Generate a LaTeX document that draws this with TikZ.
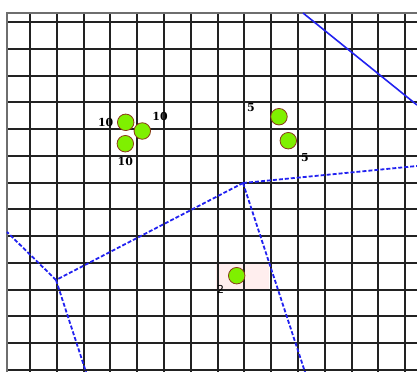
\documentclass[tikz,border=0pt]{standalone}
\usepackage{fontspec}
\setsansfont{DejaVu Sans}
\newfontfamily\labelfont{DejaVu Serif}
\usetikzlibrary{positioning}
\definecolor{ink}{HTML}{000000}
\definecolor{gridink}{HTML}{222222}
\definecolor{frameink}{HTML}{6E6E6E}
\definecolor{edgeblue}{HTML}{2222F0}
\definecolor{sitefill}{HTML}{7FF000}
\definecolor{siterim}{HTML}{8A3A1A}
\definecolor{cellpink}{HTML}{FFEEEE}
\tikzset{
  site/.style={circle, draw=siterim, fill=sitefill, line width=0.8bp, minimum size=16.5bp, inner sep=0pt},
  weight/.style={font=\labelfont\bfseries\fontsize{11}{13}\selectfont, text=ink, inner sep=0pt},
  lightweight/.style={weight, font=\sffamily\fontsize{11}{13}\selectfont},
  gridline/.style={draw=gridink, line width=1.6bp},
  frameline/.style={draw=frameink, line width=2bp},
  cellmark/.style={fill=cellpink, draw=none},
  edge/.style={draw=edgeblue, line width=1.8bp, dash pattern=on 4bp off 2bp},
  solidedge/.style={draw=edgeblue, line width=1.6bp}
}

\begin{document}
\begin{tikzpicture}[x=1bp, y=-1bp]
\useasboundingbox (0,0) rectangle (417,372);
\fill[white] (0,0) rectangle (417,372);
% highlighted cell
\fill[cellmark] (216,264) rectangle (269,290);
% map grid
\foreach \k in {0,...,14}{
  \pgfmathsetmacro{\gx}{round(30+26.8*\k)}
  \draw[gridline] (\gx,13) -- (\gx,372);
}
\foreach \k in {0,...,13}{
  \pgfmathsetmacro{\gy}{round(22+26.77*\k)}
  \draw[gridline] (7,\gy) -- (417,\gy);
}
\draw[frameline] (7,372) -- (7,13) -- (417,13);

% region borders
\coordinate (t1) at (303,13);
\coordinate (r1) at (417,105);
\coordinate (r2) at (417,166);
\coordinate (v1) at (243,183);
\coordinate (v2) at (56,280);
\coordinate (l1) at (7,232);
\coordinate (b1) at (305,372);
\coordinate (b2) at (86,372);
\draw[solidedge] (t1) -- (r1);
\draw[edge] (v1) -- (r2);
\draw[edge] (v1) -- (b1);
\draw[edge] (v1) -- (v2);
\draw[edge] (v2) -- (l1);
\draw[edge] (v2) -- (b2);

% sites
\node[site] (sa) at (125.7,122.3) {};
\node[site] (sb) at (142.3,131) {};
\node[site] (sc) at (125.3,143.7) {};
\node[site] (sd) at (279,116.7) {};
\node[site] (se) at (288.3,140.7) {};
\node[site] (sf) at (236.7,275.7) {};

\node[weight, left=3.5bp of sa] (wa) {10};
\node[weight] (wb) at (160,117) {10};
\node[weight, below=4.5bp of sc] (wc) {10};
\node[weight] (wd) at (251,108) {5};
\node[weight] (we) at (305,158) {5};
\node[lightweight] (wf) at (220.5,289.5) {2};
\end{tikzpicture}
\end{document}
